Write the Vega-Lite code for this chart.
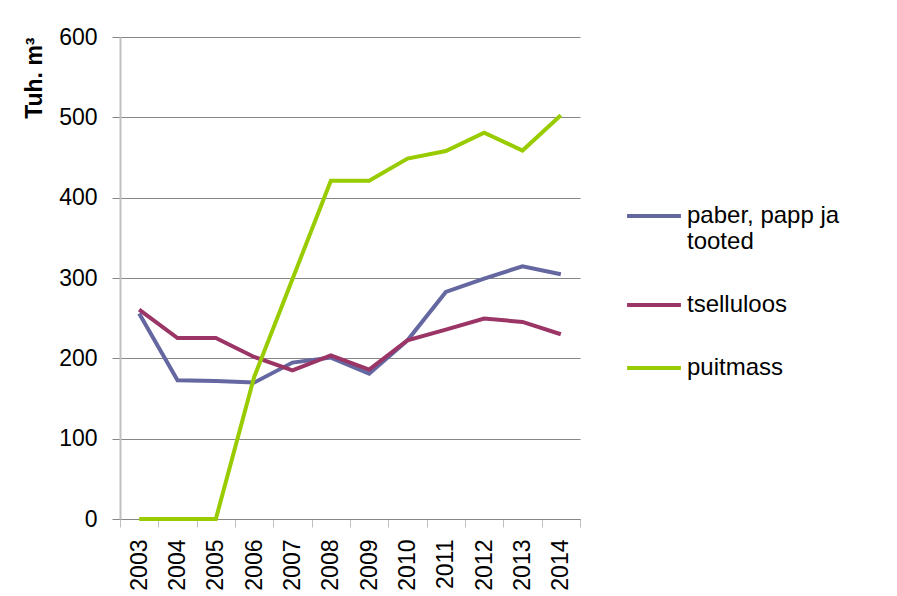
{
  "$schema": "https://vega.github.io/schema/vega-lite/v6.json",
  "width": 460,
  "height": 482,
  "autosize": "none",
  "padding": {"left": 120, "top": 37, "right": 317, "bottom": 77},
  "background": "white",
  "config": {
    "view": {"stroke": null},
    "font": "Liberation Sans"
  },
  "data": {
    "values": [
      {"year": "2003", "series": "paber, papp ja tooted", "value": 255.7},
      {"year": "2004", "series": "paber, papp ja tooted", "value": 172.7},
      {"year": "2005", "series": "paber, papp ja tooted", "value": 171.8},
      {"year": "2006", "series": "paber, papp ja tooted", "value": 169.8},
      {"year": "2007", "series": "paber, papp ja tooted", "value": 194.7},
      {"year": "2008", "series": "paber, papp ja tooted", "value": 200.9},
      {"year": "2009", "series": "paber, papp ja tooted", "value": 181},
      {"year": "2010", "series": "paber, papp ja tooted", "value": 222.5},
      {"year": "2011", "series": "paber, papp ja tooted", "value": 282.6},
      {"year": "2012", "series": "paber, papp ja tooted", "value": 299.2},
      {"year": "2013", "series": "paber, papp ja tooted", "value": 314.6},
      {"year": "2014", "series": "paber, papp ja tooted", "value": 304.6},
      {"year": "2003", "series": "tselluloos", "value": 260.7},
      {"year": "2004", "series": "tselluloos", "value": 225.3},
      {"year": "2005", "series": "tselluloos", "value": 225.3},
      {"year": "2006", "series": "tselluloos", "value": 201.7},
      {"year": "2007", "series": "tselluloos", "value": 185.1},
      {"year": "2008", "series": "tselluloos", "value": 203.8},
      {"year": "2009", "series": "tselluloos", "value": 186},
      {"year": "2010", "series": "tselluloos", "value": 222.5},
      {"year": "2011", "series": "tselluloos", "value": 235.8},
      {"year": "2012", "series": "tselluloos", "value": 249.5},
      {"year": "2013", "series": "tselluloos", "value": 245.3},
      {"year": "2014", "series": "tselluloos", "value": 230},
      {"year": "2003", "series": "puitmass", "value": 0},
      {"year": "2004", "series": "puitmass", "value": 0},
      {"year": "2005", "series": "puitmass", "value": 0},
      {"year": "2006", "series": "puitmass", "value": 176.8},
      {"year": "2007", "series": "puitmass", "value": 298.8},
      {"year": "2008", "series": "puitmass", "value": 421},
      {"year": "2009", "series": "puitmass", "value": 421},
      {"year": "2010", "series": "puitmass", "value": 448.6},
      {"year": "2011", "series": "puitmass", "value": 458.1},
      {"year": "2012", "series": "puitmass", "value": 481},
      {"year": "2013", "series": "puitmass", "value": 458.6},
      {"year": "2014", "series": "puitmass", "value": 502.5}
    ]
  },
  "mark": {"type": "line", "strokeWidth": 4, "strokeJoin": "miter"},
  "encoding": {
    "x": {
      "field": "year",
      "type": "ordinal",
      "scale": {"type": "band", "paddingInner": 0, "paddingOuter": 0},
      "axis": {
        "title": null,
        "labelAngle": -90,
        "labelAlign": "right",
        "labelBaseline": "middle",
        "labelFontSize": 23,
        "labelColor": "#000000",
        "labelPadding": 12,
        "tickBand": "extent",
        "tickSize": 8,
        "tickColor": "#BFBFBF",
        "domainColor": "#868686",
        "domainWidth": 1,
        "grid": false
      }
    },
    "y": {
      "field": "value",
      "type": "quantitative",
      "scale": {"domain": [0, 600], "nice": false},
      "axis": {
        "title": "Tuh. m³",
        "titleFontSize": 23,
        "titleFontWeight": "bold",
        "titleColor": "#000000",
        "titleAngle": -90,
        "titleAlign": "right",
        "titleBaseline": "top",
        "titleX": -97,
        "titleY": 0,
        "values": [0, 100, 200, 300, 400, 500, 600],
        "labelFontSize": 23,
        "labelColor": "#000000",
        "labelPadding": 15,
        "tickSize": 8,
        "tickColor": "#868686",
        "domainColor": "#BFBFBF",
        "domainWidth": 2,
        "grid": true,
        "gridColor": "#868686",
        "gridWidth": 1
      }
    },
    "color": {
      "field": "series",
      "type": "nominal",
      "sort": ["paber, papp ja tooted", "tselluloos", "puitmass"],
      "scale": {
        "domain": ["paber, papp ja tooted", "tselluloos", "puitmass"],
        "range": ["#6467A0", "#9A3566", "#99CC00"]
      },
      "legend": {
        "title": null,
        "orient": "none",
        "legendX": 505,
        "legendY": 150,
        "symbolType": "stroke",
        "symbolSize": 2900,
        "symbolStrokeWidth": 4,
        "labelFontSize": 24,
        "labelColor": "#000000",
        "labelOffset": 4,
        "labelLimit": 300,
        "rowPadding": 22,
        "labelExpr": "datum.label == 'paber, papp ja tooted' ? ['paber, papp ja', 'tooted'] : datum.label"
      }
    }
  }
}
